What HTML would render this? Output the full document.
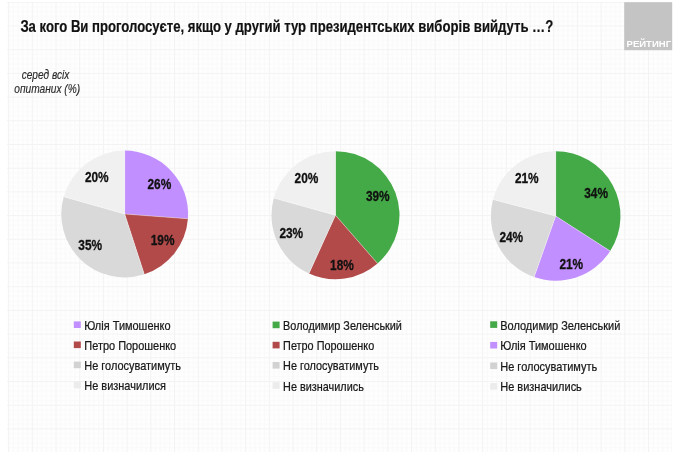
<!DOCTYPE html>
<html><head><meta charset="utf-8"><title>Рейтинг</title>
<style>
html,body{margin:0;padding:0;background:#fff;}
body{width:690px;height:454px;overflow:hidden;}
svg{display:block;font-family:"Liberation Sans",sans-serif;will-change:transform;opacity:0.999;}
</style></head><body>
<svg width="690" height="454" viewBox="0 0 690 454">
<defs>
<pattern id="g" x="8.1" y="1.8" width="23.7" height="23.7" patternUnits="userSpaceOnUse">
<rect width="23.7" height="23.7" fill="#fefefe"/>
<path d="M0,5.24H23.7M0,9.98H23.7M0,14.72H23.7M0,19.46H23.7M5.24,0V23.7M9.98,0V23.7M14.72,0V23.7M19.46,0V23.7" stroke="#fafafa" stroke-width="1" fill="none"/>
<path d="M0,0.5H23.7M0.5,0V23.7" stroke="#f3f3f3" stroke-width="1" fill="none"/>
</pattern>
</defs>
<rect x="0" y="0" width="690" height="454" fill="#ffffff"/>
<rect x="7" y="2" width="665" height="450" fill="url(#g)"/>

<rect x="624.2" y="2.2" width="48" height="48" fill="#c4c4c4"/>
<text transform="translate(626.6,47.0) scale(1.07,1)" font-size="8.9" font-weight="bold" font-style="normal" fill="#ffffff" text-anchor="start">РЕЙТИНГ</text>
<text transform="translate(20.4,32.0) scale(0.82,1)" font-size="16" font-weight="bold" font-style="normal" fill="#111" text-anchor="start" stroke="#111" stroke-width="0.2" stroke-linejoin="round">За кого Ви проголосуєте, якщо у другий тур президентських виборів вийдуть …?</text>
<text transform="translate(45.5,78.7) scale(0.83,1)" font-size="12.2" font-weight="normal" font-style="italic" fill="#2a2a2a" text-anchor="middle" stroke="#2a2a2a" stroke-width="0.15" stroke-linejoin="round">серед всіх</text>
<text transform="translate(47.2,93.4) scale(0.835,1)" font-size="12.2" font-weight="normal" font-style="italic" fill="#2a2a2a" text-anchor="middle" stroke="#2a2a2a" stroke-width="0.15" stroke-linejoin="round">опитаних (%)</text>
<path d="M124.70,214.00 L124.70,150.60 A63.4,63.4 0 0 1 187.92,218.78 Z" fill="#c18fff"/>
<path d="M124.70,214.00 L187.92,218.78 A63.4,63.4 0 0 1 144.29,274.30 Z" fill="#b24a4a"/>
<path d="M124.70,214.00 L144.29,274.30 A63.4,63.4 0 0 1 63.71,196.69 Z" fill="#d9d9d9"/>
<path d="M124.70,214.00 L63.71,196.69 A63.4,63.4 0 0 1 124.70,150.60 Z" fill="#f0f0f0"/>
<path d="M124.70,214.00 L124.70,150.60" stroke="#ffffff" stroke-opacity="0.45" stroke-width="0.8" fill="none"/>
<path d="M124.70,214.00 L187.92,218.78" stroke="#ffffff" stroke-opacity="0.45" stroke-width="0.8" fill="none"/>
<path d="M124.70,214.00 L144.29,274.30" stroke="#ffffff" stroke-opacity="0.45" stroke-width="0.8" fill="none"/>
<path d="M124.70,214.00 L63.71,196.69" stroke="#ffffff" stroke-opacity="0.45" stroke-width="0.8" fill="none"/>
<path d="M335.50,215.20 L335.50,151.20 A64.0,64.0 0 0 1 377.52,263.47 Z" fill="#44a947"/>
<path d="M335.50,215.20 L377.52,263.47 A64.0,64.0 0 0 1 308.98,273.45 Z" fill="#b24a4a"/>
<path d="M335.50,215.20 L308.98,273.45 A64.0,64.0 0 0 1 273.82,198.12 Z" fill="#d9d9d9"/>
<path d="M335.50,215.20 L273.82,198.12 A64.0,64.0 0 0 1 335.50,151.20 Z" fill="#f0f0f0"/>
<path d="M335.50,215.20 L335.50,151.20" stroke="#ffffff" stroke-opacity="0.45" stroke-width="0.8" fill="none"/>
<path d="M335.50,215.20 L377.52,263.47" stroke="#ffffff" stroke-opacity="0.45" stroke-width="0.8" fill="none"/>
<path d="M335.50,215.20 L308.98,273.45" stroke="#ffffff" stroke-opacity="0.45" stroke-width="0.8" fill="none"/>
<path d="M335.50,215.20 L273.82,198.12" stroke="#ffffff" stroke-opacity="0.45" stroke-width="0.8" fill="none"/>
<path d="M555.70,216.00 L555.70,151.20 A64.8,64.8 0 0 1 610.19,251.06 Z" fill="#44a947"/>
<path d="M555.70,216.00 L610.19,251.06 A64.8,64.8 0 0 1 534.13,277.11 Z" fill="#c18fff"/>
<path d="M555.70,216.00 L534.13,277.11 A64.8,64.8 0 0 1 493.04,199.49 Z" fill="#d9d9d9"/>
<path d="M555.70,216.00 L493.04,199.49 A64.8,64.8 0 0 1 555.70,151.20 Z" fill="#f0f0f0"/>
<path d="M555.70,216.00 L555.70,151.20" stroke="#ffffff" stroke-opacity="0.45" stroke-width="0.8" fill="none"/>
<path d="M555.70,216.00 L610.19,251.06" stroke="#ffffff" stroke-opacity="0.45" stroke-width="0.8" fill="none"/>
<path d="M555.70,216.00 L534.13,277.11" stroke="#ffffff" stroke-opacity="0.45" stroke-width="0.8" fill="none"/>
<path d="M555.70,216.00 L493.04,199.49" stroke="#ffffff" stroke-opacity="0.45" stroke-width="0.8" fill="none"/>
<text transform="translate(84.9,182.4) scale(0.82,1)" font-size="14.5" font-weight="bold" font-style="normal" fill="#111" text-anchor="start" stroke="#111" stroke-width="0.3" stroke-linejoin="round">20%</text>
<text transform="translate(147.5,189.0) scale(0.82,1)" font-size="14.5" font-weight="bold" font-style="normal" fill="#111" text-anchor="start" stroke="#111" stroke-width="0.3" stroke-linejoin="round">26%</text>
<text transform="translate(78.3,250.2) scale(0.82,1)" font-size="14.5" font-weight="bold" font-style="normal" fill="#111" text-anchor="start" stroke="#111" stroke-width="0.3" stroke-linejoin="round">35%</text>
<text transform="translate(150.7,245.3) scale(0.82,1)" font-size="14.5" font-weight="bold" font-style="normal" fill="#111" text-anchor="start" stroke="#111" stroke-width="0.3" stroke-linejoin="round">19%</text>
<text transform="translate(294.6,182.9) scale(0.82,1)" font-size="14.5" font-weight="bold" font-style="normal" fill="#111" text-anchor="start" stroke="#111" stroke-width="0.3" stroke-linejoin="round">20%</text>
<text transform="translate(365.9,201) scale(0.82,1)" font-size="14.5" font-weight="bold" font-style="normal" fill="#111" text-anchor="start" stroke="#111" stroke-width="0.3" stroke-linejoin="round">39%</text>
<text transform="translate(279.4,237.9) scale(0.82,1)" font-size="14.5" font-weight="bold" font-style="normal" fill="#111" text-anchor="start" stroke="#111" stroke-width="0.3" stroke-linejoin="round">23%</text>
<text transform="translate(330.1,269.9) scale(0.82,1)" font-size="14.5" font-weight="bold" font-style="normal" fill="#111" text-anchor="start" stroke="#111" stroke-width="0.3" stroke-linejoin="round">18%</text>
<text transform="translate(514.9,183.3) scale(0.82,1)" font-size="14.5" font-weight="bold" font-style="normal" fill="#111" text-anchor="start" stroke="#111" stroke-width="0.3" stroke-linejoin="round">21%</text>
<text transform="translate(584.2,197.7) scale(0.82,1)" font-size="14.5" font-weight="bold" font-style="normal" fill="#111" text-anchor="start" stroke="#111" stroke-width="0.3" stroke-linejoin="round">34%</text>
<text transform="translate(499.4,242.1) scale(0.82,1)" font-size="14.5" font-weight="bold" font-style="normal" fill="#111" text-anchor="start" stroke="#111" stroke-width="0.3" stroke-linejoin="round">24%</text>
<text transform="translate(559.4,268.7) scale(0.82,1)" font-size="14.5" font-weight="bold" font-style="normal" fill="#111" text-anchor="start" stroke="#111" stroke-width="0.3" stroke-linejoin="round">21%</text>
<rect x="73.8" y="321.4" width="7" height="6.6" fill="#c18fff"/>
<text transform="translate(84.3,329.7) scale(0.83,1)" font-size="13.2" font-weight="normal" font-style="normal" fill="#181818" text-anchor="start" stroke="#181818" stroke-width="0.25" stroke-linejoin="round">Юлія Тимошенко</text>
<rect x="73.8" y="341.5" width="7" height="6.6" fill="#b24a4a"/>
<text transform="translate(84.3,349.8) scale(0.83,1)" font-size="13.2" font-weight="normal" font-style="normal" fill="#181818" text-anchor="start" stroke="#181818" stroke-width="0.25" stroke-linejoin="round">Петро Порошенко</text>
<rect x="73.8" y="361.6" width="7" height="6.6" fill="#d2d2d2"/>
<text transform="translate(84.3,369.9) scale(0.83,1)" font-size="13.2" font-weight="normal" font-style="normal" fill="#181818" text-anchor="start" stroke="#181818" stroke-width="0.25" stroke-linejoin="round">Не голосуватимуть</text>
<rect x="73.8" y="381.7" width="7" height="6.6" fill="#ececec"/>
<text transform="translate(84.3,390.0) scale(0.83,1)" font-size="13.2" font-weight="normal" font-style="normal" fill="#181818" text-anchor="start" stroke="#181818" stroke-width="0.25" stroke-linejoin="round">Не визначилися</text>
<rect x="272.6" y="321.6" width="7" height="6.6" fill="#44a947"/>
<text transform="translate(283.1,329.9) scale(0.823,1)" font-size="13.2" font-weight="normal" font-style="normal" fill="#181818" text-anchor="start" stroke="#181818" stroke-width="0.25" stroke-linejoin="round">Володимир Зеленський</text>
<rect x="272.6" y="341.8" width="7" height="6.6" fill="#b24a4a"/>
<text transform="translate(283.1,350.1) scale(0.823,1)" font-size="13.2" font-weight="normal" font-style="normal" fill="#181818" text-anchor="start" stroke="#181818" stroke-width="0.25" stroke-linejoin="round">Петро Порошенко</text>
<rect x="272.6" y="362.0" width="7" height="6.6" fill="#d2d2d2"/>
<text transform="translate(283.1,370.3) scale(0.823,1)" font-size="13.2" font-weight="normal" font-style="normal" fill="#181818" text-anchor="start" stroke="#181818" stroke-width="0.25" stroke-linejoin="round">Не голосуватимуть</text>
<rect x="272.6" y="382.2" width="7" height="6.6" fill="#ececec"/>
<text transform="translate(283.1,390.5) scale(0.823,1)" font-size="13.2" font-weight="normal" font-style="normal" fill="#181818" text-anchor="start" stroke="#181818" stroke-width="0.25" stroke-linejoin="round">Не визначились</text>
<rect x="490.2" y="321.3" width="7" height="6.6" fill="#44a947"/>
<text transform="translate(500.3,329.6) scale(0.832,1)" font-size="13.2" font-weight="normal" font-style="normal" fill="#181818" text-anchor="start" stroke="#181818" stroke-width="0.25" stroke-linejoin="round">Володимир Зеленський</text>
<rect x="490.2" y="341.9" width="7" height="6.6" fill="#c18fff"/>
<text transform="translate(500.3,350.2) scale(0.832,1)" font-size="13.2" font-weight="normal" font-style="normal" fill="#181818" text-anchor="start" stroke="#181818" stroke-width="0.25" stroke-linejoin="round">Юлія Тимошенко</text>
<rect x="490.2" y="362.5" width="7" height="6.6" fill="#d2d2d2"/>
<text transform="translate(500.3,370.8) scale(0.832,1)" font-size="13.2" font-weight="normal" font-style="normal" fill="#181818" text-anchor="start" stroke="#181818" stroke-width="0.25" stroke-linejoin="round">Не голосуватимуть</text>
<rect x="490.2" y="383.1" width="7" height="6.6" fill="#ececec"/>
<text transform="translate(500.3,391.4) scale(0.832,1)" font-size="13.2" font-weight="normal" font-style="normal" fill="#181818" text-anchor="start" stroke="#181818" stroke-width="0.25" stroke-linejoin="round">Не визначились</text>
</svg></body></html>
